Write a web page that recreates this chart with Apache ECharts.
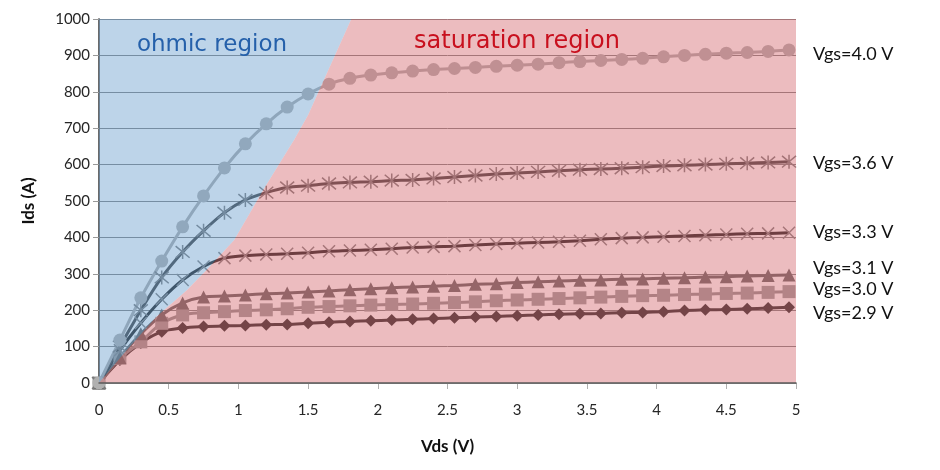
<!DOCTYPE html>
<html>
<head>
<meta charset="utf-8">
<script src="https://cdn.jsdelivr.net/npm/echarts@6/dist/echarts.min.js"></script>
<style>
html,body{margin:0;padding:0;background:#fff;}
#chart{width:940px;height:470px;}
</style>
</head>
<body>
<div id="chart"></div>
<script>
// ---- data ----
const vds = [0,0.15,0.3,0.45,0.6,0.75,0.9,1.05,1.2,1.35,1.5,1.65,1.8,1.95,2.1,2.25,2.4,2.55,2.7,2.85,3.0,3.15,3.3,3.45,3.6,3.75,3.9,4.05,4.2,4.35,4.5,4.65,4.8,4.95];
const ids40 = [0,118,234,335,429,514,591,657,712,758,794,821,837,846,852,857,861,864,867,870,873,876,880,883,886,889,892,896,900,903,906,908,911,915];
const ids36 = [0,100,200,290,360,418,468,503,523,537,542,548,551,553,556,558,562,566,570,574,577,580,583,586,588,590,593,596,598,600,602,604,606,608];
const ids33 = [0,90,165,230,283,320,343,350,353,355,358,362,364,366,369,372,374,376,379,382,384,386,388,391,395,398,400,402,404,406,408,410,411,413];
const ids31 = [0,70,135,187,220,236,239,242,245,247,250,253,256,259,262,264,266,268,271,273,276,278,280,282,283,285,286,288,289,291,292,294,295,297];
const ids30 = [0,68,113,164,187,193,196,199,201,204,208,210,212,214,216,217,219,221,223,226,228,230,232,234,236,238,240,241,243,244,246,247,249,251];
const ids29 = [0,63,110,141,151,155,157,158,160,161,164,167,169,171,173,175,177,179,181,183,185,187,189,190,191,193,194,196,199,201,202,204,206,208];
const seriesNames = ['Vgs=4.0 V','Vgs=3.6 V','Vgs=3.3 V','Vgs=3.1 V','Vgs=3.0 V','Vgs=2.9 V'];
// boundary between ohmic and saturation regions
const boundaryV = [0,0.2,0.41,0.63,0.77,0.97,1.19,1.40,1.50,1.81];
const boundaryI = [0,91,181,255,310,393,538,668,736,1000];
const xTicks = {min:0,max:5,interval:0.5};
const yTicks = {min:0,max:1000,interval:100};
const regionLabels = ['ohmic region','saturation region'];

// ---- chart ----
const chart = echarts.init(document.getElementById('chart'), null, {renderer:'canvas'});
const font = 'Lato, "Open Sans", sans-serif';
const pts = arr => vds.map((x,i)=>[x,arr[i]]);
const starPath = 'path://M0,0L10,10M10,0L0,10M5,-1L5,11';
const xPath = 'path://M0,0L10,10M10,0L0,10';

function mkSeries(name, arr, opt){
  return {
    type:'line', name, data:pts(arr), smooth:0.35, z:2,
    symbol:opt.symbol, symbolSize:opt.size,
    lineStyle:{color:opt.line, width:opt.lw||3},
    itemStyle:{color:opt.fill, borderColor:opt.stroke||opt.fill, borderWidth:opt.bw||0},
    endLabel:{show:true, formatter:name, color:'#111', fontFamily:font, fontSize:18, distance:0, offset:opt.off},
    emphasis:{disabled:true}
  };
}

const overlay = {
  type:'custom', z:3, silent:true,
  data:[[0,0],[0,0]],
  renderItem:function(params, api){
    const b = boundaryV.map((v,i)=>[v,boundaryI[i]]);
    let poly, fill;
    if(params.dataIndex===0){
      poly = [[0,yTicks.max],[0,0]].concat(b);
      fill = 'rgba(109,160,207,0.45)';
    } else {
      poly = b.concat([[xTicks.max,yTicks.max],[xTicks.max,0]]);
      fill = 'rgba(213,107,113,0.45)';
    }
    return {type:'polygon', shape:{points:poly.map(p=>api.coord(p))}, style:{fill:fill}};
  }
};

const option = {
  animation:false,
  backgroundColor:'#fff',
  grid:{left:99, right:144, top:19, bottom:87, containLabel:false},
  xAxis:[{
    type:'value', min:xTicks.min, max:xTicks.max, interval:xTicks.interval,
    name:'Vds (V)', nameLocation:'middle', nameGap:55,
    nameTextStyle:{fontFamily:font, fontWeight:'bold', fontSize:17, color:'#111'},
    axisLine:{show:true, lineStyle:{color:'#a8a8a8', width:1}},
    axisTick:{show:true, length:6, lineStyle:{color:'#b0b0b0'}},
    axisLabel:{fontFamily:font, fontSize:15, color:'#262626', margin:20, formatter:v=>String(v)},
    splitLine:{show:false}
  },{
    type:'value', position:'top', min:xTicks.min, max:xTicks.max, z:10,
    axisLine:{show:true, lineStyle:{color:'#5a5a5a', width:1.5}},
    axisTick:{show:false}, axisLabel:{show:false}, splitLine:{show:false}
  }],
  yAxis:[{
    type:'value', min:yTicks.min, max:yTicks.max, interval:yTicks.interval,
    name:'Ids (A)', nameLocation:'middle', nameGap:62,
    nameTextStyle:{fontFamily:font, fontWeight:'bold', fontSize:17, color:'#111'},
    axisLine:{show:true, lineStyle:{color:'#7a7a7a', width:1.5}},
    axisTick:{show:true, length:6, lineStyle:{color:'#999'}},
    axisLabel:{fontFamily:font, fontSize:15, color:'#262626', margin:9, formatter:v=>String(v)},
    splitLine:{show:true, lineStyle:{color:'#7e7e7e', width:1}}
  },{
    type:'value', position:'right', min:yTicks.min, max:yTicks.max,
    axisLine:{show:true, lineStyle:{color:'#5a5a5a', width:1.5}},
    axisTick:{show:false}, axisLabel:{show:false}, splitLine:{show:false}
  }],
  graphic:[
    {type:'text', z:100, x:212, y:45, style:{text:regionLabels[0], fontFamily:'"DejaVu Sans", Verdana, sans-serif', fontSize:23, fill:'#2560aa', textAlign:'center', textVerticalAlign:'middle'}},
    {type:'text', z:100, x:517, y:42, style:{text:regionLabels[1], fontFamily:'"DejaVu Sans", Verdana, sans-serif', fontSize:24, fill:'#c8101e', textAlign:'center', textVerticalAlign:'middle'}}
  ],
  series:[
    mkSeries(seriesNames[5], ids29, {symbol:'diamond', size:12, line:'#262626', fill:'#262626', off:[24,6]}),
    mkSeries(seriesNames[4], ids30, {symbol:'rect', size:13, line:'#8f8f8f', fill:'#9a9a9a', off:[24,-2]}),
    mkSeries(seriesNames[3], ids31, {symbol:'triangle', size:13, line:'#5e5e5e', fill:'#626262', off:[24,-7]}),
    mkSeries(seriesNames[2], ids33, {symbol:xPath, size:12, line:'#1a1a1a', fill:'#808080', stroke:'#808080', bw:1.5, off:[24,0]}),
    mkSeries(seriesNames[1], ids36, {symbol:starPath, size:14, line:'#3c3c3c', fill:'#7a7a7a', stroke:'#7a7a7a', bw:1.5, off:[24,1]}),
    mkSeries(seriesNames[0], ids40, {symbol:'circle', size:13, line:'#acacac', fill:'#b0b0b0', off:[24,4]}),
    overlay
  ]
};
chart.setOption(option);
</script>
</body>
</html>
